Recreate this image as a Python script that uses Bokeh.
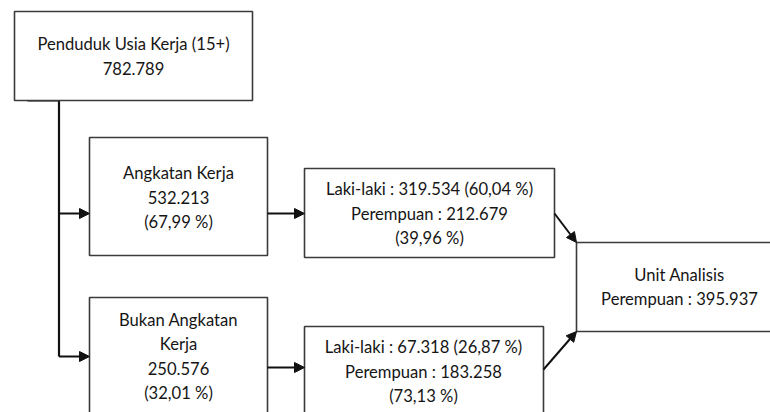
from bokeh.plotting import figure
from bokeh.models import ColumnDataSource, Range1d, Arrow, NormalHead
from bokeh.core.properties import value
from bokeh.embed import file_html
from bokeh.resources import INLINE

# ---- data (texts of the flow chart) ----
box_names = ["penduduk", "angkatan", "bukan", "ak_gender", "bak_gender", "unit"]
box_texts = [
    ["Penduduk Usia Kerja (15+)", "782.789"],
    ["Angkatan Kerja", "532.213", "(67,99 %)"],
    ["Bukan Angkatan", "Kerja", "250.576", "(32,01 %)"],
    ["Laki-laki : 319.534 (60,04 %)", "Perempuan : 212.679", "(39,96 %)"],
    ["Laki-laki : 67.318 (26,87 %)", "Perempuan : 183.258", "(73,13 %)"],
    ["Unit Analisis", "Perempuan : 395.937"],
]

# ---- layout (pixel positions in the picture) ----
box_left = [14, 89, 89, 304, 304, 576]
box_right = [252, 267, 267, 554, 543, 790]
box_top = [11, 137, 297, 168, 326, 242]
box_bottom = [100, 255, 440, 257, 440, 331]
text_cx = [133, 178, 178, 429, 423, 679]
text_cy = [55.5, 197, 356, 213, 371, 286.5]
line_gap = 24.5

W, H = 770, 412
p = figure(width=W, height=H, output_backend="svg", toolbar_location=None,
           x_range=Range1d(0, W), y_range=Range1d(H, 0),
           min_border=0, outline_line_color=None)
p.axis.visible = False
p.grid.visible = False

# connectors
p.segment(x0=[27, 58.5], y0=[100, 100], x1=[58.5, 58.5], y1=[100, 356],
          line_color="#111111", line_width=2.2)

arrows = [
    (58.5, 213, 89, 213),
    (58.5, 356, 89, 356),
    (267, 213, 304, 213),
    (267, 367, 304, 367),
    (554, 213, 576, 242),
    (543, 369, 576, 331),
]
for x0, y0, x1, y1 in arrows:
    p.add_layout(Arrow(x_start=x0, y_start=y0, x_end=x1, y_end=y1,
                       line_color="#111111", line_width=2,
                       end=NormalHead(size=10, fill_color="#111111",
                                      line_color="#111111", line_width=1)))

# boxes
p.quad(left=box_left, right=box_right, top=box_top, bottom=box_bottom,
       fill_color="white", line_color="#3a3a3a", line_width=1.6)

# texts
xs, ys, ts = [], [], []
for cx, cy, lines in zip(text_cx, text_cy, box_texts):
    n = len(lines)
    for i, t in enumerate(lines):
        xs.append(cx)
        ys.append(cy + (i - (n - 1) / 2) * line_gap)
        ts.append(t)
src = ColumnDataSource(dict(x=xs, y=ys, text=ts))
p.text(x="x", y="y", text="text", source=src, text_align="center",
       text_baseline="middle", text_font=value("Lato"),
       text_font_size="16.6px", text_color="#151515")

open("out.html", "w").write(file_html(p, INLINE))
